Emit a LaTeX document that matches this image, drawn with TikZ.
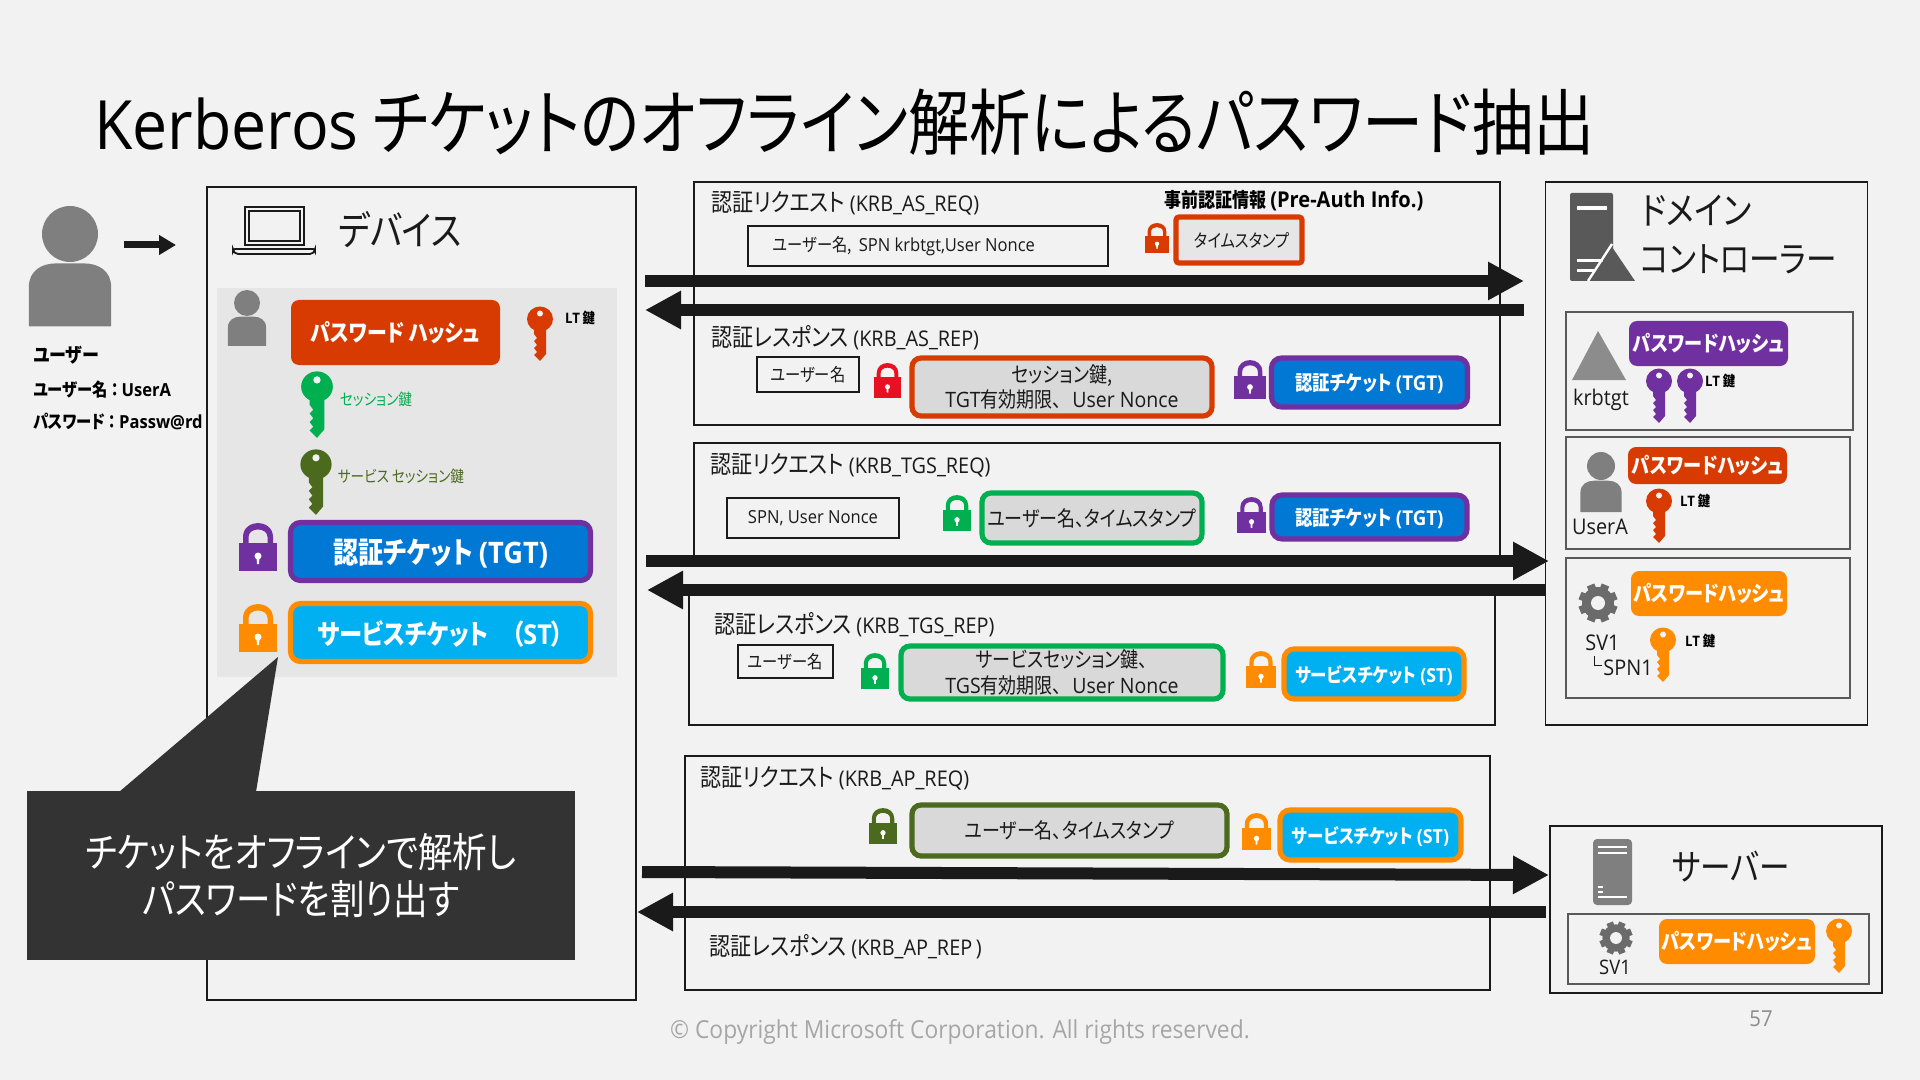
\documentclass[tikz,border=0pt]{standalone}
\usepackage{fontspec}
\setmainfont{Noto Sans CJK JP}[FakeStretch=0.85,RawFeature=+palt]
\newfontfamily\latfont{Open Sans}[FakeStretch=0.92]
\newcommand{\lat}[1]{{\latfont #1}}
\newcommand{\krb}[1]{{\latfont\fontsize{10.8}{12}\selectfont (#1)}}
\usepackage{xcolor}
\usetikzlibrary{arrows.meta}
\definecolor{pagegray}{HTML}{F2F2F2}
\definecolor{panelgray}{HTML}{E6E6E6}
\definecolor{innergray}{HTML}{D9D9D9}
\definecolor{icongray}{HTML}{7F7F7F}
\definecolor{inkblack}{HTML}{1A1A1A}
\definecolor{calloutgray}{HTML}{333333}
\definecolor{hashred}{HTML}{D83B01}
\definecolor{lockred}{HTML}{E81123}
\definecolor{ticketblue}{HTML}{0078D4}
\definecolor{ticketcyan}{HTML}{00B0F0}
\definecolor{tgtpurple}{HTML}{7030A0}
\definecolor{storange}{HTML}{FF8C00}
\definecolor{sessiongreen}{HTML}{00B050}
\definecolor{servicegreen}{HTML}{4B6A1E}
\tikzset{
    wh/.style 2 args={minimum width=#1*0.5pt, minimum height=#2*0.5pt},
    frame/.style={draw=inkblack, line width=0.9pt, inner sep=0pt},
    subframe/.style={draw=black!65, line width=0.9pt, inner sep=0pt},
    plainbox/.style={draw=inkblack, line width=0.8pt, inner sep=0pt, text=inkblack, align=center, font=\fontsize{9}{11}\selectfont},
    databox/.style={draw=#1, fill=innergray, line width=2.6pt, rounded corners=4.5pt, inner sep=0pt, text=inkblack, align=center, font=\fontsize{10.6}{12.9}\selectfont},
    ticket/.style={draw=#1, line width=2.6pt, rounded corners=5pt, inner sep=0pt, text=white, text depth=0pt, font=\bfseries\fontsize{10.2}{12}\selectfont},
    hashbox/.style={fill=#1, rounded corners=4pt, inner sep=0pt, text=white, font=\bfseries\fontsize{10.7}{13}\selectfont},
    msglabel/.style={anchor=west, inner sep=0pt, text=inkblack, font=\fontsize{12.4}{14}\selectfont},
    ltlabel/.style={inner sep=0pt, text=black, font=\bfseries\fontsize{7.2}{8}\selectfont},
    hostlabel/.style={inner sep=0pt, text=inkblack, font=\latfont\fontsize{10.8}{12}\selectfont},
    hosttitle/.style={inner sep=0pt, text=inkblack, font=\fontsize{18}{21}\selectfont},
    bigarrow/.style={draw=inkblack, line width=6pt, -{Triangle[length=18pt,width=18pt]}},
    pics/keyicon/.style={code={
        \fill[#1] (6,22) -- (6,47) -- (0,54) -- (-6,48) -- (-3,45) -- (-6,41) -- (-3,38) -- (-6,34) -- (-3,31) -- (-6,27) -- (-6,22) -- cycle;
        \fill[#1] (0,12) circle[x radius=13, y radius=12.5];
        \fill[pagegray] (0,6.5) circle[radius=3];
    }},
    pics/lockicon/.style={code={
        \fill[#1] (-19,20) rectangle (19,48);
        \fill[#1] (-15,21) -- (-15,14) .. controls (-15,-4.5) and (15,-4.5) .. (15,14) -- (15,21) -- (9.5,21) -- (9.5,14) .. controls (9.5,4) and (-9.5,4) .. (-9.5,14) -- (-9.5,21) -- cycle;
        \fill[white] (0,33) circle[radius=3.5];
        \fill[white] (-1.5,34) -- (1.5,34) -- (1,41) -- (-1,41) -- cycle;
    }},
    pics/gearicon/.style={code={
        \foreach \a in {0,45,...,315} {
            \fill[black!58, rotate=\a+22.5] (-4,-19.5) rectangle (4,-12);
        }
        \fill[black!58] (0,0) circle[radius=16];
        \fill[pagegray] (0,0) circle[radius=7];
    }},
    pics/usericon/.style={code={
        \fill[icongray] (0,0) circle[radius=1];
        \fill[icongray] (-1.47,3.3) -- (-1.47,1.9) .. controls (-1.47,1.3) and (-1,1.05) .. (-0.5,1.05) -- (0.5,1.05) .. controls (1,1.05) and (1.47,1.3) .. (1.47,1.9) -- (1.47,3.3) -- cycle;
    }},
}

\begin{document}
\begin{tikzpicture}[x=0.5pt,y=-0.5pt]
    \useasboundingbox (0,0) rectangle (1920,1080);
    \fill[pagegray] (0,0) rectangle (1920,1080);

    % ========== Title ==========
    \node[anchor=west, inner sep=0pt, text=black, font=\fontsize{36}{40}\selectfont] (title) at (94,122) {{\latfont\fontsize{34}{40}\selectfont Kerberos} チケットのオフライン解析によるパスワード抽出};

    % ========== User ==========
    \pic[scale=28] at (70,234) {usericon};
    \coordinate (userfrom) at (124,245);
    \coordinate (userto) at (176,245);
    \draw[draw=inkblack, line width=3.5pt, -{Triangle[length=8.5pt,width=9.5pt]}] (userfrom) -- (userto);
    \node[anchor=west, inner sep=0pt, text=black, font=\bfseries\fontsize{10}{12}\selectfont] (username) at (33,355) {ユーザー};
    \node[anchor=west, inner sep=0pt, text=black, font=\bfseries\fontsize{9}{11}\selectfont] (useraccount) at (33,390) {ユーザー名\,：\,\lat{UserA}};
    \node[anchor=west, inner sep=0pt, text=black, font=\bfseries\fontsize{9}{11}\selectfont] (userpass) at (33,421) {パスワード\,：\,\lat{Passw@rd}};

    % ========== Device ==========
    \node[frame, wh={429}{813}] (device) at (421.5,593.5) {};
    \fill[panelgray] (217,288) rectangle (617,677);

    % Laptop
    \draw[inkblack, line width=0.9pt, fill=pagegray] (245,207) rectangle (304,245);
    \draw[inkblack, line width=0.7pt] (249,211) rectangle (300,241);
    \draw[inkblack, line width=0.9pt, rounded corners=1pt] (233,249) -- (315,249) -- (315,251) -- (312,254) -- (236,254) -- (233,251) -- cycle;
    \node[hosttitle, font=\fontsize{20}{24}\selectfont] (devicetitle) at (400,230) {デバイス};

    \pic[scale=13] at (247,303) {usericon};
    \node[hashbox=hashred, wh={209}{65}, font=\bfseries\fontsize{11.7}{14}\selectfont] (devicehash) at (395.5,332.5) {パスワード ハッシュ};
    \pic at (540,307) {keyicon=hashred};
    \node[ltlabel] (devicelt) at (580,318) {\lat{LT} 鍵};
    \pic[scale=1.22] at (317,372) {keyicon=sessiongreen};
    \node[inner sep=0pt, text=sessiongreen, font=\fontsize{8}{9}\selectfont] (sessionkey) at (376,399) {セッション鍵};
    \pic[scale=1.2] at (316,450) {keyicon=servicegreen};
    \node[inner sep=0pt, text=servicegreen, font=\fontsize{8}{9}\selectfont] (servicekey) at (401,476) {サービス セッション鍵};

    \pic at (258,523) {lockicon=tgtpurple};
    \node[ticket=tgtpurple, fill=ticketblue, wh={300}{58}, font=\bfseries\fontsize{14.8}{17}\selectfont] (devicetgt) at (440.5,551.5) {認証チケット \lat{(TGT)}};
    \pic at (258,604) {lockicon=storange};
    \node[ticket=storange, fill=ticketcyan, wh={300}{58}, font=\bfseries\fontsize{13.7}{17}\selectfont] (devicest) at (440.5,632.5) {サービスチケット　（\lat{ST}）};

    % Callout
    \fill[calloutgray] (119,792) -- (278,657) -- (256,792) -- cycle;
    \node[fill=calloutgray, wh={548}{169}, inner sep=0pt, text=white, align=center, font=\fontsize{20.3}{23.5}\selectfont] (callout) at (301,875.5) {チケットをオフラインで解析し\\パスワードを割り出す};

    % ========== KRB_AS ==========
    \node[frame, wh={806}{243}] (asframe) at (1097,303.5) {};
    \node[msglabel] (asreq) at (711,203) {認証リクエスト \krb{KRB\_AS\_REQ}};
    \node[anchor=west, inner sep=0pt, text=black, font=\bfseries\fontsize{10}{12}\selectfont] (preauth) at (1164,201) {事前認証情報 {\latfont\fontsize{10.9}{12}\selectfont (Pre-Auth Info.)}};
    \node[plainbox, wh={360}{40}] (asreqid) at (928,246) {ユーザー名,\ \ \lat{SPN krbtgt,User Nonce}\hspace*{24pt}};
    \pic[scale=.63] at (1157,223) {lockicon=hashred};
    \node[databox=hashred, fill=panelgray, rounded corners=1.5pt, wh={126}{46}, font=\fontsize{9}{11}\selectfont] (astime) at (1239,240) {\hspace*{3pt}タイムスタンプ};
    \node[msglabel] (asrep) at (711,338) {認証レスポンス \krb{KRB\_AS\_REP}};
    \node[plainbox, wh={102}{35}] (asrepid) at (808,374.5) {ユーザー名};
    \pic[scale=.72] at (887.5,363) {lockicon=lockred};
    \node[databox=hashred, wh={300}{58}] (assession) at (1062,387) {セッション鍵,\\\lat{TGT}有効期限、\hspace{.5em}\lat{User Nonce}};
    \pic[scale=.82] at (1250,360) {lockicon=tgtpurple};
    \node[ticket=tgtpurple, fill=ticketblue, wh={196}{49}] (astgt) at (1369.5,382.5) {認証チケット \lat{(TGT)}};

    \coordinate (asgofrom) at (645,281);
    \coordinate (asgoto) at (1524,281);
    \coordinate (asbackfrom) at (1524,310);
    \coordinate (asbackto) at (645,310);
    \draw[bigarrow] (asgofrom) -- (asgoto);
    \draw[bigarrow] (asbackfrom) -- (asbackto);

    % ========== KRB_TGS ==========
    \draw[inkblack, line width=0.9pt] (694,555) -- (694,443) -- (1500,443) -- (1500,555);
    \node[msglabel] (tgsreq) at (710,465) {認証リクエスト \krb{KRB\_TGS\_REQ}};
    \node[plainbox, wh={172}{40}] (tgsreqid) at (813,518) {\lat{SPN, User Nonce}};
    \pic[scale=.75] at (957,495) {lockicon=sessiongreen};
    \node[databox=sessiongreen, wh={220}{50}] (tgsauth) at (1092,518) {ユーザー名、タイムスタンプ};
    \pic[scale=.75] at (1251.5,497) {lockicon=tgtpurple};
    \node[ticket=tgtpurple, fill=ticketblue, wh={195}{44}] (tgstgt) at (1369.5,517) {認証チケット \lat{(TGT)}};

    \draw[inkblack, line width=0.9pt] (689,590) -- (689,725) -- (1495,725) -- (1495,590);
    \node[msglabel] (tgsrep) at (714,625) {認証レスポンス \krb{KRB\_TGS\_REP}};
    \node[plainbox, wh={95}{33}] (tgsrepid) at (785.5,661.5) {ユーザー名};
    \pic[scale=.75] at (875,653) {lockicon=sessiongreen};
    \node[databox=sessiongreen, wh={322}{53}] (tgssession) at (1062,672.5) {サービスセッション鍵、\\\lat{TGS}有効期限、\hspace{.5em}\lat{User Nonce}};
    \pic[scale=.77] at (1261,651) {lockicon=storange};
    \node[ticket=storange, fill=ticketcyan, wh={180}{50}, font=\bfseries\fontsize{9.7}{12}\selectfont] (tgsst) at (1374,674) {サービスチケット \lat{(ST)}};

    \coordinate (tgsgofrom) at (646,561);
    \coordinate (tgsgoto) at (1549,561);
    \coordinate (tgsbackfrom) at (1546,590);
    \coordinate (tgsbackto) at (647,590);
    \draw[bigarrow] (tgsgofrom) -- (tgsgoto);
    \draw[bigarrow] (tgsbackfrom) -- (tgsbackto);

    % ========== KRB_AP ==========
    \node[frame, wh={805}{234}] (apframe) at (1087.5,873) {};
    \node[msglabel] (apreq) at (700,778) {認証リクエスト \krb{KRB\_AP\_REQ}};
    \pic[scale=.75] at (883,808) {lockicon=servicegreen};
    \node[databox=servicegreen, wh={315}{51}] (apauth) at (1069.5,830.5) {ユーザー名、タイムスタンプ};
    \pic[scale=.77] at (1256.5,813) {lockicon=storange};
    \node[ticket=storange, fill=ticketcyan, wh={181}{50}, font=\bfseries\fontsize{9.7}{12}\selectfont] (apst) at (1370.5,835) {サービスチケット \lat{(ST)}};
    \node[msglabel] (aprep) at (709,947) {認証レスポンス \krb{KRB\_AP\_REP\,}};

    \coordinate (apgofrom) at (642,872);
    \coordinate (apgoto) at (1549,875);
    \coordinate (apbackfrom) at (1546,912);
    \coordinate (apbackto) at (637,912);
    \draw[bigarrow] (apgofrom) -- (apgoto);
    \draw[bigarrow] (apbackfrom) -- (apbackto);

    % ========== Domain controller ==========
    \node[frame, wh={322}{543}] (dcframe) at (1706.5,453.5) {};
    \fill[black!65, rounded corners=1pt] (1570,193) rectangle (1613,281);
    \fill[white] (1577,206) rectangle (1607,210);
    \fill[white] (1577,259) rectangle (1603,262);
    \fill[white] (1577,269) rectangle (1595,272);
    \fill[black!65] (1612,247) -- (1635,281) -- (1590,281) -- cycle;
    \draw[white, line width=1.2pt] (1612,244) -- (1588,281);
    \node[hosttitle, anchor=west, font=\fontsize{18.8}{21}\selectfont] (dcline) at (1641,211) {ドメイン};
    \node[hosttitle, anchor=west] (dclinetwo) at (1640,259) {コントローラー};

    \node[subframe, wh={287}{118}] (krbframe) at (1709.5,371) {};
    \fill[black!45] (1598,331) -- (1626,380) -- (1572,380) -- cycle;
    \node[hostlabel] (krbname) at (1601,400) {krbtgt};
    \node[hashbox=tgtpurple, wh={159}{45}] (krbhash) at (1708.5,343.5) {パスワードハッシュ};
    \pic at (1659,369) {keyicon=tgtpurple};
    \pic at (1690,369) {keyicon=tgtpurple};
    \node[ltlabel] (krblt) at (1720,381) {\lat{LT} 鍵};

    \node[subframe, wh={284}{112}] (userframe) at (1708,493) {};
    \pic[scale=14] at (1601,466) {usericon};
    \node[hostlabel] (useraname) at (1600,527) {UserA};
    \node[hashbox=hashred, wh={159}{37}] (userahash) at (1707.5,465.5) {パスワードハッシュ};
    \pic at (1659,489) {keyicon=hashred};
    \node[ltlabel] (useralt) at (1695,501) {\lat{LT} 鍵};

    \node[subframe, wh={284}{140}] (svcframe) at (1708,628) {};
    \pic at (1598,603) {gearicon};
    \node[hashbox=storange, wh={156}{45}] (svchash) at (1709,593.5) {パスワードハッシュ};
    \node[hostlabel, anchor=west] (svcname) at (1585,643) {SV1};
    \node[hostlabel, anchor=west] (svcspn) at (1603,668) {SPN1};
    \draw[inkblack, line width=0.4pt] (1594,656) -- (1594,665) -- (1602,665);
    \pic at (1663,628) {keyicon=storange};
    \node[ltlabel] (svclt) at (1700,641) {\lat{LT} 鍵};

    % ========== Server ==========
    \node[frame, wh={332}{167}] (serverframe) at (1716,909.5) {};
    \fill[icongray, rounded corners=2pt] (1593,839) rectangle (1632,905);
    \fill[white] (1598,846) rectangle (1627,848);
    \fill[white] (1598,852) rectangle (1627,854);
    \fill[white] (1598,886) rectangle (1603,888);
    \fill[white] (1598,891) rectangle (1603,893);
    \fill[white] (1598,896) rectangle (1627,898);
    \node[hosttitle] (servertitle) at (1731,867) {サーバー};
    \node[subframe, wh={301}{70}] (servicebox) at (1718.5,949) {};
    \pic[scale=.85] at (1616,938) {gearicon};
    \node[hostlabel, font=\latfont\fontsize{10}{11}\selectfont] (servername) at (1615,967) {SV1};
    \node[hashbox=storange, wh={156}{45}] (serverhash) at (1737,941.5) {パスワードハッシュ};
    \pic at (1839,919) {keyicon=storange};

    % ========== Footer ==========
    \node[inner sep=0pt, text=black!35, font=\latfont\fontsize{12.4}{14}\selectfont] (copyright) at (960,1032) {© Copyright Microsoft Corporation. All rights reserved.};
    \node[inner sep=0pt, text=black!45, font=\latfont\fontsize{11}{13}\selectfont] (pagenumber) at (1761,1019) {57};
\end{tikzpicture}
\end{document}
